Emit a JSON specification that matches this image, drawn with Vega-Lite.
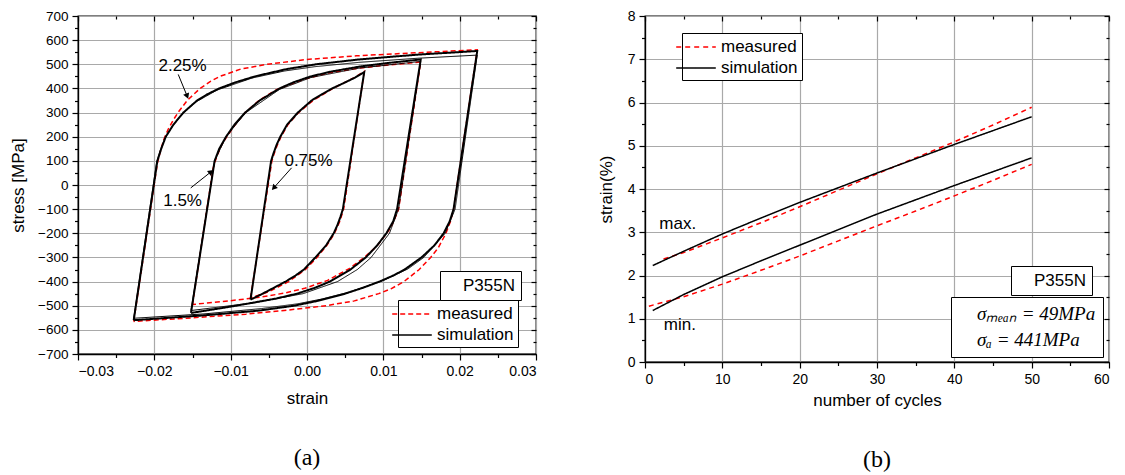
{
"$schema": "https://vega.github.io/schema/vega-lite/v6.json",
"background": "white",
"padding": {"left": 8, "top": 8, "right": 5, "bottom": 5},
"spacing": 58,
"config": {
  "font": "Liberation Sans",
  "view": {"stroke": "#000", "strokeWidth": 1.3},
  "axis": {"labelFontSize": 14, "titleFontSize": 17, "titleFontWeight": "normal", "labelColor": "#000", "titleColor": "#000", "domainColor": "#000", "tickColor": "#000", "tickSize": 6, "labelPadding": 4, "labelOverlap": false, "gridColor": "#a9a9a9", "gridWidth": 1.2, "domainWidth": 1.3, "tickWidth": 1.2, "labelFont": "Liberation Sans", "titleFont": "Liberation Sans"},
  "legend": {"labelColor": "#000", "labelFont": "Liberation Sans"},
  "title": {"font": "Liberation Serif", "fontSize": 24, "fontWeight": "normal", "color": "#000"}
},
"datasets": {
  "loops": [
    {"curve":"a3","type":"measured","i":0,"strain":-0.0227,"stress":-565},
    {"curve":"a3","type":"measured","i":1,"strain":-0.0196,"stress":90},
    {"curve":"a3","type":"measured","i":2,"strain":-0.0192,"stress":140},
    {"curve":"a3","type":"measured","i":3,"strain":-0.0188,"stress":185},
    {"curve":"a3","type":"measured","i":4,"strain":-0.0182,"stress":230},
    {"curve":"a3","type":"measured","i":5,"strain":-0.0175,"stress":270},
    {"curve":"a3","type":"measured","i":6,"strain":-0.0169,"stress":300},
    {"curve":"a3","type":"measured","i":7,"strain":-0.0157,"stress":350},
    {"curve":"a3","type":"measured","i":8,"strain":-0.0140,"stress":400},
    {"curve":"a3","type":"measured","i":9,"strain":-0.0126,"stress":430},
    {"curve":"a3","type":"measured","i":10,"strain":-0.0114,"stress":450},
    {"curve":"a3","type":"measured","i":11,"strain":-0.0087,"stress":480},
    {"curve":"a3","type":"measured","i":12,"strain":-0.0052,"stress":500},
    {"curve":"a3","type":"measured","i":13,"strain":0.0000,"stress":520},
    {"curve":"a3","type":"measured","i":14,"strain":0.0065,"stress":535},
    {"curve":"a3","type":"measured","i":15,"strain":0.0145,"stress":548},
    {"curve":"a3","type":"measured","i":16,"strain":0.0223,"stress":560},
    {"curve":"a3","type":"measured","i":17,"strain":0.0192,"stress":-100},
    {"curve":"a3","type":"measured","i":18,"strain":0.0188,"stress":-150},
    {"curve":"a3","type":"measured","i":19,"strain":0.0182,"stress":-200},
    {"curve":"a3","type":"measured","i":20,"strain":0.0172,"stress":-260},
    {"curve":"a3","type":"measured","i":21,"strain":0.0162,"stress":-300},
    {"curve":"a3","type":"measured","i":22,"strain":0.0147,"stress":-350},
    {"curve":"a3","type":"measured","i":23,"strain":0.0127,"stress":-400},
    {"curve":"a3","type":"measured","i":24,"strain":0.0110,"stress":-430},
    {"curve":"a3","type":"measured","i":25,"strain":0.0094,"stress":-450},
    {"curve":"a3","type":"measured","i":26,"strain":0.0062,"stress":-480},
    {"curve":"a3","type":"measured","i":27,"strain":0.0025,"stress":-500},
    {"curve":"a3","type":"measured","i":28,"strain":-0.0030,"stress":-520},
    {"curve":"a3","type":"measured","i":29,"strain":-0.0080,"stress":-535},
    {"curve":"a3","type":"measured","i":30,"strain":-0.0150,"stress":-550},
    {"curve":"a3","type":"measured","i":31,"strain":-0.0227,"stress":-565},

    {"curve":"b3","type":"measured","i":0,"strain":-0.0150,"stress":-495},
    {"curve":"b3","type":"measured","i":1,"strain":-0.0123,"stress":70},
    {"curve":"b3","type":"measured","i":2,"strain":-0.0118,"stress":120},
    {"curve":"b3","type":"measured","i":3,"strain":-0.0112,"stress":165},
    {"curve":"b3","type":"measured","i":4,"strain":-0.0105,"stress":200},
    {"curve":"b3","type":"measured","i":5,"strain":-0.0094,"stress":250},
    {"curve":"b3","type":"measured","i":6,"strain":-0.0081,"stress":300},
    {"curve":"b3","type":"measured","i":7,"strain":-0.0063,"stress":350},
    {"curve":"b3","type":"measured","i":8,"strain":-0.0040,"stress":395},
    {"curve":"b3","type":"measured","i":9,"strain":-0.0002,"stress":440},
    {"curve":"b3","type":"measured","i":10,"strain":0.0030,"stress":465},
    {"curve":"b3","type":"measured","i":11,"strain":0.0063,"stress":482},
    {"curve":"b3","type":"measured","i":12,"strain":0.0100,"stress":495},
    {"curve":"b3","type":"measured","i":13,"strain":0.0149,"stress":510},
    {"curve":"b3","type":"measured","i":14,"strain":0.0120,"stress":-100},
    {"curve":"b3","type":"measured","i":15,"strain":0.0115,"stress":-140},
    {"curve":"b3","type":"measured","i":16,"strain":0.0109,"stress":-180},
    {"curve":"b3","type":"measured","i":17,"strain":0.0102,"stress":-210},
    {"curve":"b3","type":"measured","i":18,"strain":0.0091,"stress":-255},
    {"curve":"b3","type":"measured","i":19,"strain":0.0075,"stress":-300},
    {"curve":"b3","type":"measured","i":20,"strain":0.0056,"stress":-345},
    {"curve":"b3","type":"measured","i":21,"strain":0.0027,"stress":-395},
    {"curve":"b3","type":"measured","i":22,"strain":-0.0003,"stress":-428},
    {"curve":"b3","type":"measured","i":23,"strain":-0.0030,"stress":-448},
    {"curve":"b3","type":"measured","i":24,"strain":-0.0062,"stress":-465},
    {"curve":"b3","type":"measured","i":25,"strain":-0.0102,"stress":-480},
    {"curve":"b3","type":"measured","i":26,"strain":-0.0150,"stress":-495},

    {"curve":"c3","type":"measured","i":0,"strain":-0.0074,"stress":-468},
    {"curve":"c3","type":"measured","i":1,"strain":-0.0046,"stress":100},
    {"curve":"c3","type":"measured","i":2,"strain":-0.0043,"stress":130},
    {"curve":"c3","type":"measured","i":3,"strain":-0.0039,"stress":165},
    {"curve":"c3","type":"measured","i":4,"strain":-0.0034,"stress":200},
    {"curve":"c3","type":"measured","i":5,"strain":-0.0025,"stress":250},
    {"curve":"c3","type":"measured","i":6,"strain":-0.0011,"stress":300},
    {"curve":"c3","type":"measured","i":7,"strain":0.0008,"stress":350},
    {"curve":"c3","type":"measured","i":8,"strain":0.0034,"stress":400},
    {"curve":"c3","type":"measured","i":9,"strain":0.0062,"stress":445},
    {"curve":"c3","type":"measured","i":10,"strain":0.0075,"stress":470},
    {"curve":"c3","type":"measured","i":11,"strain":0.0048,"stress":-100},
    {"curve":"c3","type":"measured","i":12,"strain":0.0043,"stress":-150},
    {"curve":"c3","type":"measured","i":13,"strain":0.0036,"stress":-200},
    {"curve":"c3","type":"measured","i":14,"strain":0.0026,"stress":-250},
    {"curve":"c3","type":"measured","i":15,"strain":0.0013,"stress":-300},
    {"curve":"c3","type":"measured","i":16,"strain":-0.0002,"stress":-350},
    {"curve":"c3","type":"measured","i":17,"strain":-0.0024,"stress":-400},
    {"curve":"c3","type":"measured","i":18,"strain":-0.0050,"stress":-442},
    {"curve":"c3","type":"measured","i":19,"strain":-0.0074,"stress":-468},

    {"curve":"a1","type":"simulation","i":0,"strain":-0.0227,"stress":-560},
    {"curve":"a1","type":"simulation","i":1,"strain":-0.0196,"stress":100},
    {"curve":"a1","type":"simulation","i":2,"strain":-0.0191,"stress":150},
    {"curve":"a1","type":"simulation","i":3,"strain":-0.0185,"stress":200},
    {"curve":"a1","type":"simulation","i":4,"strain":-0.0175,"stress":250},
    {"curve":"a1","type":"simulation","i":5,"strain":-0.0162,"stress":300},
    {"curve":"a1","type":"simulation","i":6,"strain":-0.0144,"stress":350},
    {"curve":"a1","type":"simulation","i":7,"strain":-0.0131,"stress":375},
    {"curve":"a1","type":"simulation","i":8,"strain":-0.0115,"stress":400},
    {"curve":"a1","type":"simulation","i":9,"strain":-0.0094,"stress":425},
    {"curve":"a1","type":"simulation","i":10,"strain":-0.0068,"stress":450},
    {"curve":"a1","type":"simulation","i":11,"strain":-0.0027,"stress":480},
    {"curve":"a1","type":"simulation","i":12,"strain":0.0012,"stress":500},
    {"curve":"a1","type":"simulation","i":13,"strain":0.0068,"stress":520},
    {"curve":"a1","type":"simulation","i":14,"strain":0.0145,"stress":540},
    {"curve":"a1","type":"simulation","i":15,"strain":0.0223,"stress":555},
    {"curve":"a1","type":"simulation","i":16,"strain":0.0192,"stress":-100},
    {"curve":"a1","type":"simulation","i":17,"strain":0.0187,"stress":-150},
    {"curve":"a1","type":"simulation","i":18,"strain":0.0179,"stress":-200},
    {"curve":"a1","type":"simulation","i":19,"strain":0.0167,"stress":-250},
    {"curve":"a1","type":"simulation","i":20,"strain":0.0150,"stress":-300},
    {"curve":"a1","type":"simulation","i":21,"strain":0.0128,"stress":-350},
    {"curve":"a1","type":"simulation","i":22,"strain":0.0113,"stress":-375},
    {"curve":"a1","type":"simulation","i":23,"strain":0.0095,"stress":-400},
    {"curve":"a1","type":"simulation","i":24,"strain":0.0074,"stress":-425},
    {"curve":"a1","type":"simulation","i":25,"strain":0.0050,"stress":-450},
    {"curve":"a1","type":"simulation","i":26,"strain":0.0014,"stress":-480},
    {"curve":"a1","type":"simulation","i":27,"strain":-0.0017,"stress":-500},
    {"curve":"a1","type":"simulation","i":28,"strain":-0.0062,"stress":-520},
    {"curve":"a1","type":"simulation","i":29,"strain":-0.0135,"stress":-540},
    {"curve":"a1","type":"simulation","i":30,"strain":-0.0227,"stress":-560},

    {"curve":"a2","type":"simulation","i":0,"strain":-0.0227,"stress":-552},
    {"curve":"a2","type":"simulation","i":1,"strain":-0.0197,"stress":95},
    {"curve":"a2","type":"simulation","i":2,"strain":-0.0192,"stress":145},
    {"curve":"a2","type":"simulation","i":3,"strain":-0.0186,"stress":195},
    {"curve":"a2","type":"simulation","i":4,"strain":-0.0176,"stress":245},
    {"curve":"a2","type":"simulation","i":5,"strain":-0.0163,"stress":295},
    {"curve":"a2","type":"simulation","i":6,"strain":-0.0146,"stress":343},
    {"curve":"a2","type":"simulation","i":7,"strain":-0.0118,"stress":393},
    {"curve":"a2","type":"simulation","i":8,"strain":-0.0072,"stress":443},
    {"curve":"a2","type":"simulation","i":9,"strain":-0.0030,"stress":472},
    {"curve":"a2","type":"simulation","i":10,"strain":0.0010,"stress":490},
    {"curve":"a2","type":"simulation","i":11,"strain":0.0068,"stress":508},
    {"curve":"a2","type":"simulation","i":12,"strain":0.0145,"stress":525},
    {"curve":"a2","type":"simulation","i":13,"strain":0.0223,"stress":538},
    {"curve":"a2","type":"simulation","i":14,"strain":0.0194,"stress":-100},
    {"curve":"a2","type":"simulation","i":15,"strain":0.0181,"stress":-200},
    {"curve":"a2","type":"simulation","i":16,"strain":0.0153,"stress":-300},
    {"curve":"a2","type":"simulation","i":17,"strain":0.0132,"stress":-348},
    {"curve":"a2","type":"simulation","i":18,"strain":0.0100,"stress":-395},
    {"curve":"a2","type":"simulation","i":19,"strain":0.0056,"stress":-443},
    {"curve":"a2","type":"simulation","i":20,"strain":0.0020,"stress":-472},
    {"curve":"a2","type":"simulation","i":21,"strain":-0.0012,"stress":-492},
    {"curve":"a2","type":"simulation","i":22,"strain":-0.0060,"stress":-512},
    {"curve":"a2","type":"simulation","i":23,"strain":-0.0135,"stress":-534},
    {"curve":"a2","type":"simulation","i":24,"strain":-0.0227,"stress":-552},

    {"curve":"b1","type":"simulation","i":0,"strain":-0.0152,"stress":-530},
    {"curve":"b1","type":"simulation","i":1,"strain":-0.0121,"stress":100},
    {"curve":"b1","type":"simulation","i":2,"strain":-0.0115,"stress":150},
    {"curve":"b1","type":"simulation","i":3,"strain":-0.0106,"stress":200},
    {"curve":"b1","type":"simulation","i":4,"strain":-0.0095,"stress":250},
    {"curve":"b1","type":"simulation","i":5,"strain":-0.0081,"stress":300},
    {"curve":"b1","type":"simulation","i":6,"strain":-0.0062,"stress":350},
    {"curve":"b1","type":"simulation","i":7,"strain":-0.0036,"stress":400},
    {"curve":"b1","type":"simulation","i":8,"strain":-0.0018,"stress":425},
    {"curve":"b1","type":"simulation","i":9,"strain":0.0005,"stress":450},
    {"curve":"b1","type":"simulation","i":10,"strain":0.0032,"stress":470},
    {"curve":"b1","type":"simulation","i":11,"strain":0.0068,"stress":490},
    {"curve":"b1","type":"simulation","i":12,"strain":0.0105,"stress":505},
    {"curve":"b1","type":"simulation","i":13,"strain":0.0149,"stress":520},
    {"curve":"b1","type":"simulation","i":14,"strain":0.0118,"stress":-100},
    {"curve":"b1","type":"simulation","i":15,"strain":0.0113,"stress":-150},
    {"curve":"b1","type":"simulation","i":16,"strain":0.0104,"stress":-200},
    {"curve":"b1","type":"simulation","i":17,"strain":0.0092,"stress":-250},
    {"curve":"b1","type":"simulation","i":18,"strain":0.0077,"stress":-300},
    {"curve":"b1","type":"simulation","i":19,"strain":0.0057,"stress":-350},
    {"curve":"b1","type":"simulation","i":20,"strain":0.0030,"stress":-400},
    {"curve":"b1","type":"simulation","i":21,"strain":0.0011,"stress":-425},
    {"curve":"b1","type":"simulation","i":22,"strain":-0.0013,"stress":-450},
    {"curve":"b1","type":"simulation","i":23,"strain":-0.0040,"stress":-470},
    {"curve":"b1","type":"simulation","i":24,"strain":-0.0075,"stress":-490},
    {"curve":"b1","type":"simulation","i":25,"strain":-0.0112,"stress":-510},
    {"curve":"b1","type":"simulation","i":26,"strain":-0.0152,"stress":-530},

    {"curve":"b2","type":"simulation","i":0,"strain":-0.0152,"stress":-520},
    {"curve":"b2","type":"simulation","i":1,"strain":-0.0121,"stress":100},
    {"curve":"b2","type":"simulation","i":2,"strain":-0.0106,"stress":200},
    {"curve":"b2","type":"simulation","i":3,"strain":-0.0081,"stress":298},
    {"curve":"b2","type":"simulation","i":4,"strain":-0.0036,"stress":396},
    {"curve":"b2","type":"simulation","i":5,"strain":0.0005,"stress":445},
    {"curve":"b2","type":"simulation","i":6,"strain":0.0068,"stress":484},
    {"curve":"b2","type":"simulation","i":7,"strain":0.0149,"stress":512},
    {"curve":"b2","type":"simulation","i":8,"strain":0.0120,"stress":-100},
    {"curve":"b2","type":"simulation","i":9,"strain":0.0108,"stress":-200},
    {"curve":"b2","type":"simulation","i":10,"strain":0.0084,"stress":-300},
    {"curve":"b2","type":"simulation","i":11,"strain":0.0066,"stress":-350},
    {"curve":"b2","type":"simulation","i":12,"strain":0.0040,"stress":-400},
    {"curve":"b2","type":"simulation","i":13,"strain":-0.0005,"stress":-450},
    {"curve":"b2","type":"simulation","i":14,"strain":-0.0070,"stress":-488},
    {"curve":"b2","type":"simulation","i":15,"strain":-0.0152,"stress":-520},

    {"curve":"c1","type":"simulation","i":0,"strain":-0.0074,"stress":-475},
    {"curve":"c1","type":"simulation","i":1,"strain":-0.0047,"stress":100},
    {"curve":"c1","type":"simulation","i":2,"strain":-0.0044,"stress":130},
    {"curve":"c1","type":"simulation","i":3,"strain":-0.0040,"stress":165},
    {"curve":"c1","type":"simulation","i":4,"strain":-0.0035,"stress":200},
    {"curve":"c1","type":"simulation","i":5,"strain":-0.0026,"stress":250},
    {"curve":"c1","type":"simulation","i":6,"strain":-0.0012,"stress":300},
    {"curve":"c1","type":"simulation","i":7,"strain":0.0006,"stress":350},
    {"curve":"c1","type":"simulation","i":8,"strain":0.0019,"stress":375},
    {"curve":"c1","type":"simulation","i":9,"strain":0.0033,"stress":400},
    {"curve":"c1","type":"simulation","i":10,"strain":0.0048,"stress":422},
    {"curve":"c1","type":"simulation","i":11,"strain":0.0063,"stress":445},
    {"curve":"c1","type":"simulation","i":12,"strain":0.0075,"stress":468},
    {"curve":"c1","type":"simulation","i":13,"strain":0.0047,"stress":-100},
    {"curve":"c1","type":"simulation","i":14,"strain":0.0044,"stress":-130},
    {"curve":"c1","type":"simulation","i":15,"strain":0.0040,"stress":-165},
    {"curve":"c1","type":"simulation","i":16,"strain":0.0035,"stress":-200},
    {"curve":"c1","type":"simulation","i":17,"strain":0.0025,"stress":-250},
    {"curve":"c1","type":"simulation","i":18,"strain":0.0011,"stress":-300},
    {"curve":"c1","type":"simulation","i":19,"strain":-0.0004,"stress":-350},
    {"curve":"c1","type":"simulation","i":20,"strain":-0.0015,"stress":-375},
    {"curve":"c1","type":"simulation","i":21,"strain":-0.0028,"stress":-400},
    {"curve":"c1","type":"simulation","i":22,"strain":-0.0043,"stress":-425},
    {"curve":"c1","type":"simulation","i":23,"strain":-0.0058,"stress":-450},
    {"curve":"c1","type":"simulation","i":24,"strain":-0.0074,"stress":-475}
  ],
  "arrows": [
    {"label":"2.25%","tx":-0.0163,"ty":493,"ax":-0.01687,"ay":458,"bx":-0.0157,"by":368},
    {"label":"1.5%","tx":-0.0163,"ty":-67,"ax":-0.01523,"ay":-12,"bx":-0.01256,"by":55},
    {"label":"0.75%","tx":0.0002,"ty":99,"ax":-0.00202,"ay":71,"bx":-0.00436,"by":-12}
  ],
  "material": [{"name":"P355N"}],
  "cycles": [
    {"series":"max","type":"measured","n":2.4,"strain":2.38},
    {"series":"max","type":"measured","n":5,"strain":2.53},
    {"series":"max","type":"measured","n":10,"strain":2.87},
    {"series":"max","type":"measured","n":15,"strain":3.22},
    {"series":"max","type":"measured","n":20,"strain":3.59},
    {"series":"max","type":"measured","n":25,"strain":3.97},
    {"series":"max","type":"measured","n":30,"strain":4.35},
    {"series":"max","type":"measured","n":35,"strain":4.72},
    {"series":"max","type":"measured","n":40,"strain":5.09},
    {"series":"max","type":"measured","n":45,"strain":5.48},
    {"series":"max","type":"measured","n":50,"strain":5.89},
    {"series":"min","type":"measured","n":0.5,"strain":1.29},
    {"series":"min","type":"measured","n":5,"strain":1.51},
    {"series":"min","type":"measured","n":10,"strain":1.80},
    {"series":"min","type":"measured","n":15,"strain":2.12},
    {"series":"min","type":"measured","n":20,"strain":2.45},
    {"series":"min","type":"measured","n":25,"strain":2.80},
    {"series":"min","type":"measured","n":30,"strain":3.15},
    {"series":"min","type":"measured","n":35,"strain":3.49},
    {"series":"min","type":"measured","n":40,"strain":3.84},
    {"series":"min","type":"measured","n":45,"strain":4.20},
    {"series":"min","type":"measured","n":50,"strain":4.57},
    {"series":"max","type":"simulation","n":1,"strain":2.23},
    {"series":"max","type":"simulation","n":5,"strain":2.56},
    {"series":"max","type":"simulation","n":10,"strain":2.96},
    {"series":"max","type":"simulation","n":15,"strain":3.33},
    {"series":"max","type":"simulation","n":20,"strain":3.69},
    {"series":"max","type":"simulation","n":25,"strain":4.03},
    {"series":"max","type":"simulation","n":30,"strain":4.37},
    {"series":"max","type":"simulation","n":35,"strain":4.70},
    {"series":"max","type":"simulation","n":40,"strain":5.03},
    {"series":"max","type":"simulation","n":45,"strain":5.35},
    {"series":"max","type":"simulation","n":50,"strain":5.67},
    {"series":"min","type":"simulation","n":1,"strain":1.19},
    {"series":"min","type":"simulation","n":5,"strain":1.56},
    {"series":"min","type":"simulation","n":10,"strain":1.97},
    {"series":"min","type":"simulation","n":15,"strain":2.34},
    {"series":"min","type":"simulation","n":20,"strain":2.70},
    {"series":"min","type":"simulation","n":25,"strain":3.06},
    {"series":"min","type":"simulation","n":30,"strain":3.42},
    {"series":"min","type":"simulation","n":35,"strain":3.75},
    {"series":"min","type":"simulation","n":40,"strain":4.08},
    {"series":"min","type":"simulation","n":45,"strain":4.40},
    {"series":"min","type":"simulation","n":50,"strain":4.72}
  ],
  "extremes": [
    {"text":"max.","n":4.23,"strain":3.18},
    {"text":"min.","n":4.5,"strain":0.85}
  ],
  "stress": [
    {"param":"σₘₑₐₙ = 49MPa"},
    {"param":"σₐ = 441MPa"}
  ]
},
"hconcat": [
  {
    "width": 458,
    "height": 338,
    "title": {"text": "(a)", "orient": "bottom", "offset": 40},
    "resolve": {"axis": {"x": "independent", "y": "independent"}},
    "layer": [
      {
        "data": {"name": "loops"},
        "transform": [{"filter": "datum.type == 'measured'"}],
        "mark": {"type": "line", "strokeWidth": 1.5},
        "encoding": {
          "x": {"field": "strain", "type": "quantitative", "scale": {"domain": [-0.03, 0.03], "nice": false, "zero": false}, "axis": {"title": "strain", "values": [-0.03, -0.02, -0.01, 0, 0.01, 0.02, 0.03], "tickCount": 7, "format": ".2f", "grid": true, "titlePadding": 12, "labelOverlap": false}},
          "y": {"field": "stress", "type": "quantitative", "scale": {"domain": [-700, 700], "nice": false}, "axis": {"title": "stress [MPa]", "values": [-700, -600, -500, -400, -300, -200, -100, 0, 100, 200, 300, 400, 500, 600, 700], "tickCount": 15, "grid": true, "titlePadding": 10, "labelOverlap": false, "labelFontSize": 13.5}},
          "color": {"field": "type", "type": "nominal", "scale": {"domain": ["measured", "simulation"], "range": ["#ff0000", "#000000"]}, "legend": {"title": null, "orient": "none", "legendX": 320, "legendY": 284, "symbolType": "M-2.2,0H2.2", "symbolSize": 324, "symbolStrokeWidth": 1.6, "labelFontSize": 17, "strokeColor": "#000", "fillColor": "#fff", "padding": 4, "rowPadding": 3, "labelOffset": 15}},
          "strokeDash": {"field": "type", "type": "nominal", "scale": {"domain": ["measured", "simulation"], "range": [[5, 3], [1, 0]]}, "legend": {"title": null, "orient": "none", "legendX": 320, "legendY": 284, "symbolType": "M-2.2,0H2.2", "symbolSize": 324, "symbolStrokeWidth": 1.6, "labelFontSize": 17, "strokeColor": "#000", "fillColor": "#fff", "padding": 4, "rowPadding": 3, "labelOffset": 15}},
          "detail": {"field": "curve"},
          "order": {"field": "i", "type": "quantitative"}
        }
      },
      {
        "data": {"name": "loops"},
        "transform": [{"filter": "datum.curve == 'a2' || datum.curve == 'b2'"}],
        "mark": {"type": "line", "strokeWidth": 1},
        "encoding": {
          "x": {"field": "strain", "type": "quantitative", "axis": {"orient": "bottom", "values": [-0.025, -0.015, -0.005, 0.005, 0.015, 0.025], "tickCount": 6, "labels": false, "grid": false, "domain": false, "tickSize": 3.5, "title": null}},
          "y": {"field": "stress", "type": "quantitative", "axis": {"orient": "left", "values": [-650, -550, -450, -350, -250, -150, -50, 50, 150, 250, 350, 450, 550, 650], "tickCount": 14, "labels": false, "grid": false, "domain": false, "tickSize": 3.5, "title": null}},
          "color": {"field": "type", "type": "nominal"},
          "strokeDash": {"field": "type", "type": "nominal"},
          "detail": {"field": "curve"},
          "order": {"field": "i", "type": "quantitative"}
        }
      },
      {
        "data": {"name": "loops"},
        "transform": [{"filter": "datum.curve == 'a1' || datum.curve == 'b1' || datum.curve == 'c1'"}],
        "mark": {"type": "line", "strokeWidth": 2},
        "encoding": {
          "x": {"field": "strain", "type": "quantitative", "axis": {"orient": "top", "values": [-0.03, -0.02, -0.01, 0, 0.01, 0.02, 0.03], "tickCount": 7, "labels": false, "grid": false, "domain": false, "tickSize": -5, "title": null}},
          "y": {"field": "stress", "type": "quantitative", "axis": {"orient": "right", "values": [-700, -600, -500, -400, -300, -200, -100, 0, 100, 200, 300, 400, 500, 600, 700], "tickCount": 15, "labels": false, "grid": false, "domain": false, "tickSize": -5, "title": null}},
          "color": {"field": "type", "type": "nominal"},
          "strokeDash": {"field": "type", "type": "nominal"},
          "detail": {"field": "curve"},
          "order": {"field": "i", "type": "quantitative"}
        }
      },
      {
        "data": {"name": "arrows"},
        "mark": {"type": "rule", "color": "#000", "strokeWidth": 1},
        "encoding": {
          "x": {"field": "ax", "type": "quantitative", "axis": {"orient": "top", "values": [-0.025, -0.015, -0.005, 0.005, 0.015, 0.025], "tickCount": 6, "labels": false, "grid": false, "domain": false, "tickSize": -3, "title": null}},
          "y": {"field": "ay", "type": "quantitative", "axis": {"orient": "right", "values": [-650, -550, -450, -350, -250, -150, -50, 50, 150, 250, 350, 450, 550, 650], "tickCount": 14, "labels": false, "grid": false, "domain": false, "tickSize": -3, "title": null}},
          "x2": {"field": "bx"},
          "y2": {"field": "by"}
        }
      },
      {
        "data": {"name": "arrows"},
        "transform": [{"filter": "datum.label == '2.25%'"}],
        "mark": {"type": "point", "shape": "triangle-up", "filled": true, "color": "#000", "size": 40, "opacity": 1, "angle": 158},
        "encoding": {"x": {"field": "bx", "type": "quantitative", "axis": null}, "y": {"field": "by", "type": "quantitative", "axis": null}}
      },
      {
        "data": {"name": "arrows"},
        "transform": [{"filter": "datum.label == '1.5%'"}],
        "mark": {"type": "point", "shape": "triangle-up", "filled": true, "color": "#000", "size": 40, "opacity": 1, "angle": 52},
        "encoding": {"x": {"field": "bx", "type": "quantitative", "axis": null}, "y": {"field": "by", "type": "quantitative", "axis": null}}
      },
      {
        "data": {"name": "arrows"},
        "transform": [{"filter": "datum.label == '0.75%'"}],
        "mark": {"type": "point", "shape": "triangle-up", "filled": true, "color": "#000", "size": 40, "opacity": 1, "angle": 222},
        "encoding": {"x": {"field": "bx", "type": "quantitative", "axis": null}, "y": {"field": "by", "type": "quantitative", "axis": null}}
      },
      {
        "data": {"name": "arrows"},
        "mark": {"type": "text", "fontSize": 17, "color": "#000", "align": "center", "baseline": "middle"},
        "encoding": {
          "x": {"field": "tx", "type": "quantitative", "axis": null},
          "y": {"field": "ty", "type": "quantitative", "axis": null},
          "text": {"field": "label"}
        }
      },
      {
        "data": {"name": "material"},
        "mark": {"type": "point", "opacity": 0},
        "encoding": {
          "shape": {"field": "name", "type": "nominal", "scale": {"range": ["circle"]}, "legend": {"title": null, "orient": "none", "legendX": 362, "legendY": 255, "symbolSize": 0, "symbolOpacity": 0, "symbolStrokeWidth": 0, "labelFontSize": 17, "labelOffset": 0, "padding": 6, "strokeColor": "#000", "fillColor": "#fff"}}
        }
      }
    ]
  },
  {
    "width": 464,
    "height": 346,
    "title": {"text": "(b)", "orient": "bottom", "offset": 40},
    "resolve": {"axis": {"x": "independent", "y": "independent"}},
    "layer": [
      {
        "data": {"name": "cycles"},
        "transform": [{"filter": "datum.type == 'measured'"}],
        "mark": {"type": "line", "strokeWidth": 1.5},
        "encoding": {
          "x": {"field": "n", "type": "quantitative", "scale": {"domain": [0, 60], "nice": false}, "axis": {"title": "number of cycles", "values": [0, 10, 20, 30, 40, 50, 60], "grid": true, "titlePadding": 6}},
          "y": {"field": "strain", "type": "quantitative", "scale": {"domain": [0, 8], "nice": false}, "axis": {"title": "strain(%)", "values": [0, 1, 2, 3, 4, 5, 6, 7, 8], "tickCount": 9, "grid": true, "titlePadding": 12}},
          "color": {"field": "type", "type": "nominal", "scale": {"domain": ["measured", "simulation"], "range": ["#ff0000", "#000000"]}, "legend": {"title": null, "orient": "none", "legendX": 37, "legendY": 17, "symbolType": "M-2.2,0H2.2", "symbolSize": 324, "symbolStrokeWidth": 1.6, "labelFontSize": 17, "strokeColor": "#000", "fillColor": "#fff", "padding": 4, "rowPadding": 3, "labelOffset": 15}},
          "strokeDash": {"field": "type", "type": "nominal", "scale": {"domain": ["measured", "simulation"], "range": [[5, 4], [1, 0]]}, "legend": {"title": null, "orient": "none", "legendX": 37, "legendY": 17, "symbolType": "M-2.2,0H2.2", "symbolSize": 324, "symbolStrokeWidth": 1.6, "labelFontSize": 17, "strokeColor": "#000", "fillColor": "#fff", "padding": 4, "rowPadding": 3, "labelOffset": 15}},
          "detail": {"field": "series"}
        }
      },
      {
        "data": {"name": "cycles"},
        "transform": [{"filter": "datum.type == 'simulation'"}],
        "mark": {"type": "line", "strokeWidth": 1.5},
        "encoding": {
          "x": {"field": "n", "type": "quantitative", "axis": {"orient": "bottom", "values": [5, 15, 25, 35, 45, 55], "labels": false, "grid": false, "domain": false, "tickSize": 3.5, "title": null}},
          "y": {"field": "strain", "type": "quantitative", "axis": {"orient": "left", "values": [0.5, 1.5, 2.5, 3.5, 4.5, 5.5, 6.5, 7.5], "tickCount": 8, "labels": false, "grid": false, "domain": false, "tickSize": 3.5, "title": null}},
          "color": {"field": "type", "type": "nominal"},
          "strokeDash": {"field": "type", "type": "nominal"},
          "detail": {"field": "series"}
        }
      },
      {
        "data": {"name": "extremes"},
        "transform": [{"filter": "datum.text == 'max.'"}],
        "mark": {"type": "text", "fontSize": 17, "color": "#000", "align": "center", "baseline": "middle"},
        "encoding": {
          "x": {"field": "n", "type": "quantitative", "axis": {"orient": "top", "values": [0, 10, 20, 30, 40, 50, 60], "labels": false, "grid": false, "domain": false, "tickSize": -5, "title": null}},
          "y": {"field": "strain", "type": "quantitative", "axis": {"orient": "right", "values": [0, 1, 2, 3, 4, 5, 6, 7, 8], "tickCount": 9, "labels": false, "grid": false, "domain": false, "tickSize": -5, "title": null}},
          "text": {"field": "text"}
        }
      },
      {
        "data": {"name": "extremes"},
        "transform": [{"filter": "datum.text == 'min.'"}],
        "mark": {"type": "text", "fontSize": 17, "color": "#000", "align": "center", "baseline": "middle"},
        "encoding": {
          "x": {"field": "n", "type": "quantitative", "axis": {"orient": "top", "values": [5, 15, 25, 35, 45, 55], "labels": false, "grid": false, "domain": false, "tickSize": -3, "title": null}},
          "y": {"field": "strain", "type": "quantitative", "axis": {"orient": "right", "values": [0.5, 1.5, 2.5, 3.5, 4.5, 5.5, 6.5, 7.5], "tickCount": 8, "labels": false, "grid": false, "domain": false, "tickSize": -3, "title": null}},
          "text": {"field": "text"}
        }
      },
      {
        "data": {"name": "material"},
        "mark": {"type": "point", "opacity": 0},
        "encoding": {
          "shape": {"field": "name", "type": "nominal", "scale": {"range": ["circle"]}, "legend": {"title": null, "orient": "none", "legendX": 366, "legendY": 250, "symbolSize": 0, "symbolOpacity": 0, "symbolStrokeWidth": 0, "labelFontSize": 17, "labelOffset": 0, "padding": 6, "strokeColor": "#000", "fillColor": "#fff"}}
        }
      },
      {
        "data": {"name": "stress"},
        "mark": {"type": "point", "opacity": 0, "filled": true},
        "encoding": {
          "fill": {"field": "param", "type": "nominal", "scale": {"domain": ["σₘₑₐₙ = 49MPa", "σₐ = 441MPa"], "range": ["#ffffff", "#ffffff"]}, "legend": {"title": null, "orient": "none", "legendX": 306, "legendY": 281, "symbolSize": 0, "symbolOpacity": 0, "symbolStrokeWidth": 0, "labelFont": "Liberation Serif", "labelFontStyle": "italic", "labelFontSize": 19, "labelOffset": 0, "padding": 7, "rowPadding": 6, "strokeColor": "#000", "fillColor": "#fff"}}
        }
      }
    ]
  }
],
"resolve": {"scale": {"color": "independent", "strokeDash": "independent", "shape": "independent", "fill": "independent"}}
}
